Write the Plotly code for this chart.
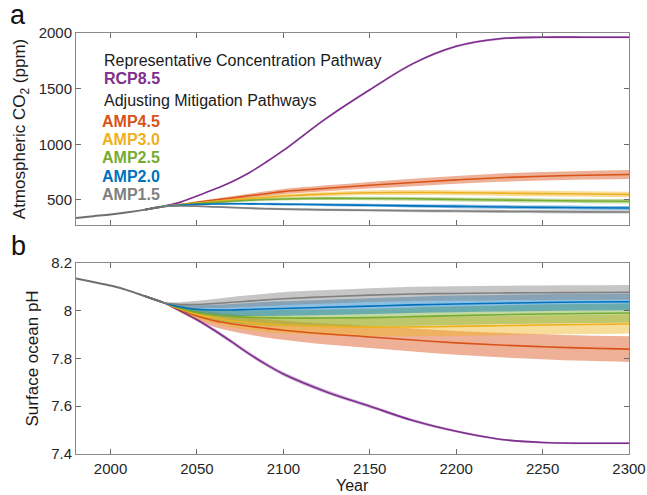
import plotly.graph_objects as go

# ---------------- data ----------------
hist_years = [1980, 1990, 2000, 2010, 2020, 2030]
hist_co2 = [338, 354, 369, 389, 413, 440]
hist_ph = [8.135, 8.12, 8.105, 8.085, 8.06, 8.035]

years = [2020, 2030, 2040, 2050, 2060, 2070, 2080, 2090, 2100, 2125, 2150,
         2175, 2200, 2225, 2250, 2275, 2300]

co2_rcp85 = [413, 440, 478, 535, 595, 662, 742, 840, 945, 1235, 1490,
             1725, 1880, 1948, 1962, 1962, 1962]
co2_amp45 = [413, 440, 458, 478, 498, 518, 537, 556, 575, 605, 632,
             657, 680, 700, 713, 722, 729]
co2_amp30 = [413, 440, 456, 472, 487, 500, 512, 524, 535, 553, 565,
             567, 565, 561, 557, 553, 549]
co2_amp25 = [413, 440, 455, 467, 478, 488, 497, 504, 509, 514, 513,
             510, 505, 500, 495, 491, 488]
co2_amp20 = [413, 440, 452, 460, 464, 466, 465, 463, 461, 457, 452,
             447, 442, 437, 433, 430, 428]
co2_amp15 = [413, 440, 446, 444, 438, 432, 426, 421, 417, 411, 407,
             403, 400, 397, 395, 393, 392]

co2_spread_rcp85 = [0, 0, 2, 3, 4, 5, 6, 7, 8, 9, 10, 10, 10, 10, 10, 10, 10]
co2_spread_amp45 = [0, 0, 6, 10, 13, 16, 19, 21, 23, 27, 30, 33, 35, 37, 38, 39, 40]
co2_spread_amp30 = [0, 0, 5, 8, 10, 12, 14, 15, 16, 19, 21, 22, 23, 24, 25, 25, 25]
co2_spread_amp25 = [0, 0, 5, 7, 9, 10, 11, 12, 13, 15, 16, 17, 18, 19, 19, 20, 20]
co2_spread_amp20 = [0, 0, 4, 6, 8, 9, 10, 11, 12, 13, 14, 15, 16, 17, 17, 18, 18]
co2_spread_amp15 = [0, 0, 4, 6, 7, 8, 9, 10, 10, 11, 12, 13, 13, 14, 14, 15, 15]

ph_rcp85 = [8.06, 8.035, 8.0, 7.962, 7.918, 7.87, 7.82, 7.775, 7.735, 7.66, 7.6,
            7.54, 7.495, 7.462, 7.448, 7.445, 7.445]
ph_amp45 = [8.06, 8.035, 8.005, 7.978, 7.958, 7.945, 7.935, 7.926, 7.918, 7.902, 7.89,
            7.877, 7.865, 7.856, 7.849, 7.843, 7.839]
ph_amp30 = [8.06, 8.035, 8.008, 7.985, 7.97, 7.958, 7.95, 7.944, 7.94, 7.934, 7.931,
            7.932, 7.934, 7.937, 7.94, 7.942, 7.944]
ph_amp25 = [8.06, 8.035, 8.01, 7.992, 7.982, 7.976, 7.972, 7.97, 7.969, 7.969, 7.971,
            7.975, 7.979, 7.983, 7.986, 7.988, 7.99]
ph_amp20 = [8.06, 8.035, 8.015, 8.006, 8.003, 8.003, 8.005, 8.007, 8.009, 8.014, 8.019,
            8.024, 8.028, 8.031, 8.034, 8.036, 8.037]
ph_amp15 = [8.06, 8.035, 8.026, 8.026, 8.03, 8.035, 8.04, 8.045, 8.05, 8.058, 8.065,
            8.07, 8.072, 8.074, 8.075, 8.076, 8.077]

ph_spread_rcp85 = [0, 0, 0.004, 0.006, 0.007, 0.008, 0.008, 0.008, 0.008, 0.008, 0.007,
                   0.006, 0.005, 0.004, 0.004, 0.004, 0.004]
ph_spread_amp45 = [0, 0, 0.012, 0.02, 0.026, 0.031, 0.035, 0.038, 0.04, 0.044, 0.046,
                   0.048, 0.05, 0.051, 0.052, 0.053, 0.054]
ph_spread_amp30 = [0, 0, 0.012, 0.019, 0.024, 0.028, 0.031, 0.033, 0.035, 0.037, 0.038,
                   0.039, 0.04, 0.04, 0.04, 0.04, 0.04]
ph_spread_amp25 = [0, 0, 0.011, 0.018, 0.023, 0.027, 0.03, 0.032, 0.034, 0.036, 0.037,
                   0.038, 0.039, 0.039, 0.04, 0.04, 0.04]
ph_spread_amp20 = [0, 0, 0.01, 0.017, 0.022, 0.025, 0.027, 0.029, 0.03, 0.032, 0.033,
                   0.034, 0.035, 0.035, 0.035, 0.035, 0.035]
ph_spread_amp15 = [0, 0, 0.009, 0.015, 0.019, 0.022, 0.024, 0.026, 0.027, 0.028, 0.029,
                   0.03, 0.03, 0.03, 0.03, 0.03, 0.03]

x_ticks = [2000, 2050, 2100, 2150, 2200, 2250, 2300]
co2_ticks = [500, 1000, 1500, 2000]
ph_ticks = [7.4, 7.6, 7.8, 8.0, 8.2]
ph_ticktext = ["7.4", "7.6", "7.8", "8", "8.2"]

# name, colour, CO2 centre, CO2 spread, pH centre, pH spread
scenarios = [
    ("RCP8.5", "#7E2F8E", co2_rcp85, co2_spread_rcp85, ph_rcp85, ph_spread_rcp85),
    ("AMP4.5", "#D95319", co2_amp45, co2_spread_amp45, ph_amp45, ph_spread_amp45),
    ("AMP3.0", "#EDB120", co2_amp30, co2_spread_amp30, ph_amp30, ph_spread_amp30),
    ("AMP2.5", "#77AC30", co2_amp25, co2_spread_amp25, ph_amp25, ph_spread_amp25),
    ("AMP2.0", "#0072BD", co2_amp20, co2_spread_amp20, ph_amp20, ph_spread_amp20),
    ("AMP1.5", "#808080", co2_amp15, co2_spread_amp15, ph_amp15, ph_spread_amp15),
]

HIST_COLOR = "#6f6f6f"
FONT = "Liberation Sans, Arial, sans-serif"
W, H = 647, 495
ML, MR, MT, MB = 76, 18, 33, 41
SMOOTH = dict(shape="spline", smoothing=1.0)


def rgba(hex_color, a):
    h = hex_color.lstrip("#")
    r, g, b = int(h[0:2], 16), int(h[2:4], 16), int(h[4:6], 16)
    return f"rgba({r},{g},{b},{a})"


def px_to_paper(px, py):
    return (px - ML) / (W - ML - MR), (H - MB - py) / (H - MT - MB)


fig = go.Figure()

# uncertainty bands: lower edge, then upper edge filled down to it
for panel, (xa, ya) in enumerate([("x", "y"), ("x2", "y2")]):
    for name, color, co2, co2s, ph, phs in scenarios:
        centre, spread = (co2, co2s) if panel == 0 else (ph, phs)
        upper = [c + s for c, s in zip(centre, spread)]
        lower = [c - s for c, s in zip(centre, spread)]
        alpha = 0.45 if name != "RCP8.5" else 0.35
        fig.add_trace(go.Scatter(
            x=years, y=lower, mode="lines", line=dict(width=0, **SMOOTH),
            hoverinfo="skip", showlegend=False, xaxis=xa, yaxis=ya))
        fig.add_trace(go.Scatter(
            x=years, y=upper, mode="lines", line=dict(width=0, **SMOOTH),
            fill="tonexty", fillcolor=rgba(color, alpha),
            hoverinfo="skip", showlegend=False, xaxis=xa, yaxis=ya))

# central pathways and history
for panel, (xa, ya) in enumerate([("x", "y"), ("x2", "y2")]):
    for name, color, co2, co2s, ph, phs in scenarios:
        centre = co2 if panel == 0 else ph
        fig.add_trace(go.Scatter(
            x=years, y=centre, mode="lines", name=name,
            line=dict(color=color, width=1.6, **SMOOTH),
            showlegend=False, xaxis=xa, yaxis=ya))
    fig.add_trace(go.Scatter(
        x=hist_years, y=hist_co2 if panel == 0 else hist_ph, mode="lines",
        line=dict(color=HIST_COLOR, width=2, **SMOOTH),
        showlegend=False, xaxis=xa, yaxis=ya))

axis_common = dict(
    showgrid=False, zeroline=False, showline=True, linecolor="#8a8a8a",
    linewidth=1, mirror="ticks", ticks="inside", ticklen=5,
    tickcolor="#6a6a6a", tickwidth=1, automargin=False,
    tickfont=dict(family=FONT, size=15, color="#262626"),
)

fig.update_layout(
    width=W, height=H,
    margin=dict(l=ML, r=MR, t=MT, b=MB),
    paper_bgcolor="white", plot_bgcolor="white",
    font=dict(family=FONT, color="#1a1a1a"),
    xaxis=dict(axis_common, domain=[0, 1], range=[1980, 2300],
               tickvals=x_ticks, showticklabels=False, anchor="y"),
    yaxis=dict(axis_common, domain=[0.544, 1.0], range=[275, 2000],
               tickvals=co2_ticks, anchor="x",
               title=dict(text="Atmospheric CO<sub>2</sub> (ppm)",
                          font=dict(family=FONT, size=17, color="#1a1a1a"),
                          standoff=8)),
    xaxis2=dict(axis_common, domain=[0, 1], range=[1980, 2300],
                tickvals=x_ticks, anchor="y2", ticklabelstandoff=1),
    yaxis2=dict(axis_common, domain=[0, 0.454], range=[7.4, 8.2],
                tickvals=ph_ticks, ticktext=ph_ticktext, anchor="x2",
                title=dict(text="Surface ocean pH",
                           font=dict(family=FONT, size=17, color="#1a1a1a"),
                           standoff=8)),
)

# x-axis title below the lower panel
xp, yp = px_to_paper((ML + W - MR) / 2, 485)
fig.add_annotation(text="Year", x=xp, y=yp, xref="paper", yref="paper",
                   showarrow=False, xanchor="center", yanchor="middle",
                   font=dict(family=FONT, size=16, color="#1a1a1a"))

# panel letters
for letter, (px, py) in [("a", (18, 15)), ("b", (18, 246))]:
    xp, yp = px_to_paper(px, py)
    fig.add_annotation(text=letter, x=xp, y=yp, xref="paper", yref="paper",
                       showarrow=False, xanchor="center", yanchor="middle",
                       font=dict(family=FONT, size=27, color="#111111"))

# pathway key
key_rows = [
    ("Representative Concentration Pathway", "#1a1a1a", False, 102, 60),
    ("RCP8.5", "#7E2F8E", True, 102, 78),
    ("Adjusting Mitigation Pathways", "#1a1a1a", False, 102, 101),
] + [(s[0], s[1], True, 100, py)
     for s, py in zip(scenarios[1:], [121, 139, 157, 176, 194])]

for text, color, bold, px, py in key_rows:
    xp, yp = px_to_paper(px, py)
    fig.add_annotation(text=f"<b>{text}</b>" if bold else text,
                       x=xp, y=yp, xref="paper", yref="paper",
                       showarrow=False, xanchor="left", yanchor="middle",
                       font=dict(family=FONT, size=16, color=color))

fig.write_html("out.html")
